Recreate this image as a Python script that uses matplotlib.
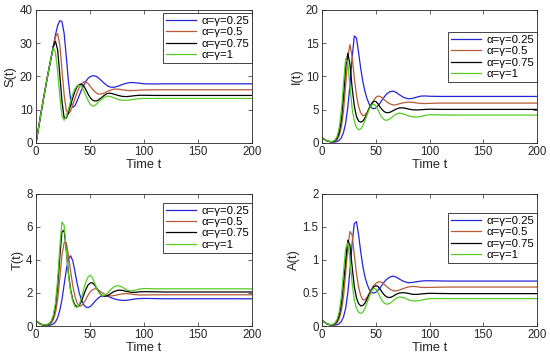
import matplotlib
matplotlib.use("Agg")
import matplotlib.pyplot as plt
from matplotlib.ticker import FormatStrFormatter

plt.rcParams['font.family'] = ['Liberation Sans', 'DejaVu Sans']

# time points (shared by all curves)
t = [0, 2, 4, 6, 8, 10, 12, 14, 16, 18, 20, 22, 24, 26, 28, 30, 32, 34, 36, 38,
     40, 42, 44, 46, 48, 50, 52, 54, 56, 58, 60, 63, 66, 69, 72, 76, 80, 84, 88,
     92, 96, 100, 110, 120, 140, 160, 180, 200]

labels = ['α=γ=0.25', 'α=γ=0.5', 'α=γ=0.75', 'α=γ=1']
colors = ['#2424dc', '#b85a36', '#000000', '#55cc22']

# ---- S(t) ----
S_025 = [0, 3.9, 7.8, 11.6, 15.3, 18.9, 22.4, 25.7, 29.1, 32.5, 35.3, 36.8, 36.5, 33, 26, 18.5, 13, 10.7, 11.2, 12.6,
         14.3, 15.9, 17.3, 18.5, 19.4, 19.9, 20.2, 20.2, 20.0, 19.5, 18.9, 18.0, 17.2, 16.8, 16.75, 17.1, 17.6, 18.0, 18.2,
         18.1, 17.95, 17.8, 17.75, 17.8, 17.8, 17.8, 17.8, 17.8]
S_05 = [0, 3.9, 7.8, 11.6, 15.3, 18.9, 22.4, 25.7, 29.0, 32.0, 32.9, 29.5, 22, 14.5, 9.8, 8.7, 9.6, 11.4, 13.4, 15.2,
        16.7, 17.8, 18.4, 18.4, 17.9, 17.1, 16.3, 15.6, 15.0, 14.7, 14.7, 15.0, 15.5, 15.9, 16.2, 16.2, 16.0, 15.8, 15.75,
        15.8, 15.9, 15.95, 16.0, 16.0, 16.0, 16.0, 16.0, 16.0]
S_075 = [0, 3.9, 7.8, 11.6, 15.3, 18.9, 22.4, 25.7, 28.9, 30.6, 28, 20.5, 12.5, 7.6, 7.5, 9.2, 11.4, 13.6, 15.5, 16.9,
         17.6, 17.7, 17.2, 16.1, 14.8, 13.7, 13.0, 12.65, 12.65, 13.0, 13.5, 14.3, 14.9, 14.95, 14.7, 14.3, 14.0, 13.95, 14.1,
         14.25, 14.35, 14.35, 14.3, 14.3, 14.3, 14.3, 14.3, 14.3]
S_1 = [0, 3.9, 7.8, 11.6, 15.3, 18.9, 22.4, 25.7, 28.6, 27.2, 21.5, 14.0, 8.2, 6.8, 8.0, 10.2, 12.6, 14.7, 16.3, 17.2,
       17.4, 17.0, 15.9, 14.4, 12.9, 11.7, 11.1, 11.2, 11.7, 12.4, 13.0, 13.7, 14.1, 14.0, 13.6, 13.1, 12.85, 12.85, 13.0,
       13.2, 13.35, 13.4, 13.4, 13.4, 13.4, 13.4, 13.4, 13.4]

# ---- I(t) ----
I_025 = [0.8, 0.55, 0.36, 0.24, 0.16, 0.13, 0.14, 0.22, 0.4, 0.8, 1.6, 3.0, 5.4, 8.8, 12.8, 16.1, 15.8, 13.6, 11.2, 9.2,
         7.7, 6.6, 5.8, 5.3, 5.15, 5.25, 5.6, 6.0, 6.5, 6.95, 7.35, 7.7, 7.8, 7.6, 7.25, 6.85, 6.65, 6.7, 6.9,
         7.05, 7.07, 7.03, 7.0, 7.0, 7.0, 7.0, 7.0, 7.0]
I_05 = [0.8, 0.55, 0.36, 0.25, 0.18, 0.17, 0.25, 0.5, 1.1, 2.4, 4.8, 8.7, 13.0, 14.8, 13.0, 9.8, 7.2, 5.5, 4.5, 4.1,
        4.2, 4.6, 5.2, 5.8, 6.4, 6.85, 7.05, 7.0, 6.8, 6.5, 6.2, 5.9, 5.72, 5.75, 5.9, 6.05, 6.15, 6.12, 6.02,
        5.95, 5.93, 5.96, 6.0, 6.0, 6.0, 6.0, 6.0, 6.0]
I_075 = [0.8, 0.55, 0.37, 0.26, 0.2, 0.2, 0.33, 0.7, 1.6, 3.5, 7.0, 11.5, 13.5, 11.8, 8.3, 5.6, 4.0, 3.3, 3.13, 3.3,
         3.8, 4.5, 5.3, 5.9, 6.25, 6.25, 5.9, 5.4, 5.0, 4.7, 4.55, 4.6, 4.85, 5.1, 5.28, 5.28, 5.12, 5.0, 4.97,
         5.0, 5.05, 5.08, 5.05, 5.05, 5.05, 5.05, 5.05, 5.05]
I_1 = [0.8, 0.55, 0.38, 0.27, 0.22, 0.25, 0.45, 1.0, 2.3, 4.9, 9.0, 12.7, 12.0, 8.5, 5.2, 3.3, 2.35, 2.0, 2.1, 2.6,
       3.4, 4.3, 5.1, 5.7, 5.85, 5.6, 5.0, 4.3, 3.8, 3.5, 3.4, 3.6, 4.0, 4.35, 4.5, 4.35, 4.1, 3.95, 3.9,
       4.0, 4.15, 4.25, 4.22, 4.2, 4.2, 4.2, 4.2, 4.2]

# ---- T(t) ----
T_025 = [0.3, 0.2, 0.11, 0.06, 0.04, 0.03, 0.04, 0.07, 0.13, 0.25, 0.5, 0.95, 1.6, 2.5, 3.4, 4.05, 4.25, 3.95, 3.3, 2.6,
         2.0, 1.6, 1.3, 1.15, 1.12, 1.17, 1.3, 1.45, 1.6, 1.72, 1.8, 1.85, 1.82, 1.73, 1.65, 1.58, 1.55, 1.56, 1.6,
         1.64, 1.66, 1.67, 1.66, 1.65, 1.65, 1.65, 1.65, 1.65]
T_05 = [0.3, 0.21, 0.12, 0.07, 0.05, 0.05, 0.09, 0.18, 0.38, 0.8, 1.6, 2.9, 4.3, 5.05, 5.05, 4.3, 3.3, 2.45, 1.8, 1.4,
        1.22, 1.22, 1.38, 1.6, 1.85, 2.05, 2.18, 2.25, 2.25, 2.17, 2.07, 1.94, 1.85, 1.82, 1.84, 1.9, 1.95, 1.96, 1.93,
        1.9, 1.88, 1.88, 1.89, 1.89, 1.89, 1.89, 1.89, 1.89]
T_075 = [0.3, 0.22, 0.13, 0.08, 0.06, 0.07, 0.13, 0.26, 0.55, 1.2, 2.4, 4.2, 5.7, 5.8, 4.6, 3.2, 2.2, 1.6, 1.27, 1.17,
         1.25, 1.5, 1.85, 2.2, 2.47, 2.6, 2.62, 2.5, 2.3, 2.08, 1.9, 1.79, 1.83, 1.96, 2.08, 2.17, 2.16, 2.09, 2.04,
         2.04, 2.07, 2.08, 2.07, 2.06, 2.06, 2.06, 2.06, 2.06]
T_1 = [0.3, 0.22, 0.13, 0.08, 0.06, 0.08, 0.15, 0.3, 0.65, 1.4, 2.8, 4.8, 6.3, 6.1, 4.6, 3.1, 2.1, 1.5, 1.18, 1.12,
       1.3, 1.7, 2.2, 2.65, 2.95, 3.07, 2.95, 2.65, 2.3, 2.05, 1.88, 1.83, 1.98, 2.2, 2.38, 2.45, 2.35, 2.18, 2.12,
       2.17, 2.24, 2.27, 2.25, 2.25, 2.25, 2.25, 2.25, 2.25]

# ---- A(t) ----
A_025 = [0.09, 0.06, 0.036, 0.022, 0.015, 0.012, 0.013, 0.02, 0.035, 0.07, 0.14, 0.27, 0.5, 0.85, 1.25, 1.55, 1.58, 1.38, 1.12, 0.9,
         0.74, 0.63, 0.55, 0.505, 0.5, 0.51, 0.54, 0.58, 0.625, 0.67, 0.705, 0.74, 0.755, 0.74, 0.71, 0.675, 0.655, 0.66, 0.67,
         0.68, 0.685, 0.685, 0.682, 0.68, 0.68, 0.68, 0.68, 0.68]
A_05 = [0.09, 0.06, 0.038, 0.024, 0.018, 0.017, 0.025, 0.05, 0.11, 0.23, 0.45, 0.8, 1.2, 1.43, 1.38, 1.08, 0.8, 0.59, 0.46, 0.395,
        0.4, 0.44, 0.5, 0.56, 0.61, 0.645, 0.665, 0.67, 0.66, 0.63, 0.6, 0.56, 0.535, 0.53, 0.545, 0.57, 0.59, 0.6, 0.595,
        0.585, 0.583, 0.585, 0.588, 0.59, 0.59, 0.59, 0.59, 0.59]
A_075 = [0.09, 0.06, 0.04, 0.025, 0.02, 0.02, 0.035, 0.075, 0.16, 0.34, 0.65, 1.0, 1.3, 1.22, 0.9, 0.6, 0.43, 0.34, 0.305, 0.31,
         0.35, 0.41, 0.48, 0.54, 0.59, 0.61, 0.6, 0.56, 0.51, 0.47, 0.44, 0.43, 0.45, 0.48, 0.5, 0.505, 0.495, 0.48, 0.478,
         0.485, 0.49, 0.495, 0.492, 0.49, 0.49, 0.49, 0.49, 0.49]
A_1 = [0.09, 0.06, 0.04, 0.025, 0.02, 0.025, 0.045, 0.1, 0.22, 0.45, 0.82, 1.18, 1.26, 1.0, 0.65, 0.4, 0.27, 0.21, 0.19, 0.21,
       0.27, 0.36, 0.45, 0.53, 0.57, 0.56, 0.51, 0.44, 0.38, 0.345, 0.33, 0.34, 0.38, 0.42, 0.44, 0.43, 0.4, 0.38, 0.38,
       0.39, 0.405, 0.415, 0.415, 0.415, 0.415, 0.415, 0.415, 0.415]

panels = [
    ('S(t)', [S_025, S_05, S_075, S_1], [0, 10, 20, 30, 40], 0.977),
    ('I(t)', [I_025, I_05, I_075, I_1], [0, 5, 10, 15, 20], 0.835),
    ('T(t)', [T_025, T_05, T_075, T_1], [0, 2, 4, 6, 8], 0.932),
    ('A(t)', [A_025, A_05, A_075, A_1], [0, 0.5, 1, 1.5, 2], 0.856),
]

positions = [
    [0.0655, 0.6017, 0.393, 0.3705],
    [0.5855, 0.6017, 0.391, 0.3705],
    [0.0655, 0.0919, 0.393, 0.368],
    [0.5855, 0.0919, 0.391, 0.368],
]

fig = plt.figure(figsize=(5.5, 3.59), dpi=100)

for (ylab, series, yticks, leg_y), pos in zip(panels, positions):
    ax = fig.add_axes(pos)
    for vals, c, lab in zip(series, colors, labels):
        ax.plot(t, vals, color=c, lw=0.9, label=lab)
    ax.set_xlim(0, 200)
    ax.set_ylim(yticks[0], yticks[-1])
    ax.set_xticks([0, 50, 100, 150, 200])
    ax.set_yticks(yticks)
    ax.yaxis.set_major_formatter(FormatStrFormatter('%g'))
    ax.tick_params(direction='in', top=True, right=True, length=3, width=0.5,
                   labelsize=8.3, colors='#262626', pad=2.5)
    for sp in ax.spines.values():
        sp.set_linewidth(0.6)
        sp.set_color('#262626')
    ax.set_xlabel('Time t', fontsize=9.3, color='#262626', labelpad=0.5)
    ax.set_ylabel(ylab, fontsize=9.3, color='#262626', labelpad=2)
    leg = ax.legend(loc='upper right', bbox_to_anchor=(1.0, leg_y), borderaxespad=0,
                    fontsize=8.2, fancybox=False, framealpha=1, edgecolor='#262626',
                    handlelength=2.7, labelspacing=0.12, borderpad=0.25, handletextpad=0.45)
    leg.get_frame().set_linewidth(0.6)

fig.savefig('out.png', dpi=100)
